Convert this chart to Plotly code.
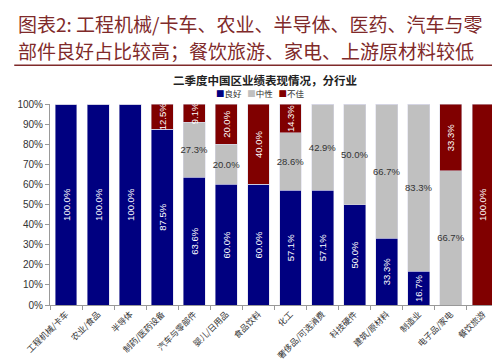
import plotly.graph_objects as go

categories = ["工程机械/卡车", "农业/食品", "半导体", "制药/医药设备", "汽车与零部件",
              "婴儿/日用品", "食品饮料", "化工", "奢侈品/可选消费", "科技硬件",
              "建筑/原材料", "制造业", "电子品/家电", "餐饮旅游"]
good =    [100.0, 100.0, 100.0, 87.5, 63.6, 60.0, 60.0, 57.1, 57.1, 50.0, 33.3, 16.7, 0.0, 0.0]
neutral = [0.0, 0.0, 0.0, 0.0, 27.3, 20.0, 0.0, 28.6, 42.9, 50.0, 66.7, 83.3, 66.7, 0.0]
bad =     [0.0, 0.0, 0.0, 12.5, 9.1, 20.0, 40.0, 14.3, 0.0, 0.0, 0.0, 0.0, 33.3, 100.0]
series_names = ["良好", "中性", "不佳"]
y_ticks = [0, 10, 20, 30, 40, 50, 60, 70, 80, 90, 100]

colors = ["#000080", "#C0C0C0", "#800000"]
FONT = "Liberation Sans, Arial, sans-serif"
CJK = "Noto Sans CJK SC, sans-serif"

def lbl(vals):
    return [f"{v:.1f}%" if v > 0 else "" for v in vals]

fig = go.Figure()
for name, vals, col in zip(series_names, [good, neutral, bad], colors):
    horiz = name == "中性"
    fig.add_trace(go.Bar(
        x=categories, y=vals, name=name, marker=dict(color=col, line=dict(color="#d8d8e8", width=0.5)),
        text=lbl(vals), textposition="inside", insidetextanchor="middle",
        textangle=0 if horiz else -90, constraintext="none",
        textfont=dict(family=FONT, size=9.5, color="#333333" if horiz else "white"),
        hoverinfo="skip",
    ))

L, R, T, B = 39, 9, 96, 64
W, H = 500, 362
pw, ph = W - L - R, H - T - B

def px(x):
    return (x - L) / pw

def py(y):
    return (H - B - y) / ph

fig.update_layout(
    width=W, height=H, barmode="stack", bargap=0.32,
    margin=dict(l=L, r=R, t=T, b=B),
    paper_bgcolor="white", plot_bgcolor="white",
    showlegend=False,
    xaxis=dict(showline=True, linecolor="#999999", linewidth=1, ticks="outside",
               tickson="boundaries", ticklen=4, tickcolor="#999999", tickangle=-45,
               tickfont=dict(family=CJK, size=8.5, color="#333333")),
    yaxis=dict(range=[0, 100], tickvals=y_ticks, ticktext=[f"{v}%" for v in y_ticks],
               showline=True, linecolor="#999999", linewidth=1, ticks="outside", ticklen=4,
               tickcolor="#999999", showgrid=False, zeroline=False,
               tickfont=dict(family=FONT, size=10, color="#333333")),
    font=dict(family=CJK),
)

# legend drawn as text with coloured squares
legend_txt = "&nbsp;&nbsp;&nbsp;".join(
    f"<span style='color:{c}'>■</span>{n}" for n, c in zip(series_names, colors))
fig.add_annotation(text=legend_txt, xref="paper", yref="paper",
                   x=px(204), y=py(85), xanchor="left", yanchor="middle", showarrow=False,
                   font=dict(family=CJK, size=8.5, color="#333333"))

fig.add_annotation(text="图表2: 工程机械/卡车、农业、半导体、医药、汽车与零", xref="paper", yref="paper",
                   x=px(5), y=py(15), xanchor="left", yanchor="middle", showarrow=False,
                   font=dict(family=CJK, size=19, color="#7f2a2a"))
fig.add_annotation(text="部件良好占比较高；餐饮旅游、家电、上游原材料较低", xref="paper", yref="paper",
                   x=px(5), y=py(42), xanchor="left", yanchor="middle", showarrow=False,
                   font=dict(family=CJK, size=19, color="#7f2a2a"))
fig.add_shape(type="line", xref="paper", yref="paper", x0=px(3), x1=px(497), y0=py(57), y1=py(57),
              line=dict(color="#7f2a2a", width=1.5))
fig.add_annotation(text="<b>二季度中国区业绩表现情况，分行业</b>", xref="paper", yref="paper",
                   x=px(255), y=py(72), xanchor="center", yanchor="middle", showarrow=False,
                   font=dict(family=CJK, size=11.5, color="#222222"))

fig.write_html("out.html")
